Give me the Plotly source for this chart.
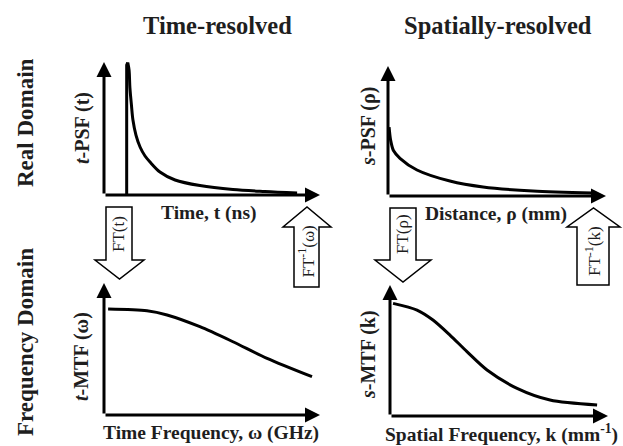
import plotly.graph_objects as go

W, H = 623, 446

# ---- data (normalized units within each panel) ----
# t-PSF: instantaneous rise, then decay
trise_x = [0.105, 0.105, 0.110]
trise_y = [0.0, 0.977, 0.996]
tpsf_x = [0.110, 0.116, 0.120, 0.127, 0.134, 0.148, 0.167, 0.190, 0.213, 0.259, 0.329, 0.444, 0.597, 0.745, 0.894]
tpsf_y = [0.996, 0.940, 0.805, 0.677, 0.564, 0.451, 0.361, 0.293, 0.248, 0.173, 0.113, 0.071, 0.041, 0.026, 0.015]

spsf_x = [0.005, 0.012, 0.025, 0.055, 0.133, 0.284, 0.436, 0.665, 0.94]
spsf_y = [0.53, 0.43, 0.35, 0.29, 0.20, 0.115, 0.069, 0.038, 0.023]

tmtf_x = [0.019, 0.199, 0.292, 0.444, 0.597, 0.755, 0.963]
tmtf_y = [0.803, 0.79, 0.758, 0.669, 0.555, 0.429, 0.29]

smtf_x = [0.014, 0.124, 0.197, 0.275, 0.353, 0.445, 0.583, 0.734, 0.95]
smtf_y = [0.86, 0.809, 0.733, 0.618, 0.491, 0.351, 0.211, 0.122, 0.084]

col_titles = ["Time-resolved", "Spatially-resolved"]
row_titles = ["Real Domain", "Frequency Domain"]
x_labels = ["Time, t (ns)", "Distance, ρ (mm)",
            "Time Frequency, ω (GHz)", "Spatial Frequency, k (mm<sup>-1</sup>)"]
y_labels = ["<i>t</i>-PSF (t)", "<i>s</i>-PSF (ρ)", "<i>t</i>-MTF (ω)", "<i>s</i>-MTF (k)"]
ft_labels = ["FT(t)", "FT<sup>-1</sup>(ω)", "FT(ρ)", "FT<sup>-1</sup>(k)"]


def px(x):
    return x / W


def py(y):
    return 1 - y / H


# panel boxes in pixels: (x_left, x_right, y_top, y_bottom)
panels = [(104, 320, 62, 195), (388, 606, 66, 196), (104, 320, 283, 415), (390, 608, 285, 416)]
curves = [
    [(trise_x, trise_y, 0.0), (tpsf_x, tpsf_y, 0.9)],
    [(spsf_x, spsf_y, 0.8)],
    [(tmtf_x, tmtf_y, 0.8)],
    [(smtf_x, smtf_y, 0.8)],
]

fig = go.Figure()
layout = dict(width=W, height=H, margin=dict(l=0, r=0, t=0, b=0),
              paper_bgcolor="white", plot_bgcolor="white", showlegend=False)
annotations = []
shapes = []
FONT = "Liberation Serif"
TXT = "#1e1e1e"

for i, ((xl, xr, yt, yb), segs) in enumerate(zip(panels, curves)):
    n = "" if i == 0 else str(i + 1)
    layout["xaxis" + n] = dict(domain=[px(xl), px(xr)], range=[0, 1], visible=False, fixedrange=True)
    layout["yaxis" + n] = dict(domain=[py(yb), py(yt)], range=[0, 1], visible=False, fixedrange=True)
    for cx, cy, sm in segs:
        line = dict(color="black", width=3)
        if sm > 0:
            line.update(shape="spline", smoothing=sm)
        fig.add_trace(go.Scatter(x=cx, y=cy, mode="lines", line=line,
                                 xaxis="x" + n, yaxis="y" + n, hoverinfo="skip"))
    for (hx, hy) in [(0, 1), (1, 0)]:
        annotations.append(dict(x=hx, y=hy, ax=0, ay=0, xref="x" + n, yref="y" + n,
                                axref="x" + n, ayref="y" + n, text="", showarrow=True,
                                arrowhead=2, arrowsize=1, arrowwidth=3, arrowcolor="black", standoff=0))


def label(text, x, y, size, angle=0):
    annotations.append(dict(x=px(x), y=py(y), xref="paper", yref="paper", text=text,
                            xanchor="center", yanchor="middle", showarrow=False, textangle=angle,
                            font=dict(family=FONT, size=size, color=TXT)))


for t, x in zip(col_titles, [217, 498]):
    label("<b>%s</b>" % t, x, 26, 24.5)
for t, y in zip(row_titles, [123, 342]):
    label("<b>%s</b>" % t, 25, y, 23, -90)
for t, (x, y) in zip(x_labels, [(209, 213), (496, 214), (211, 433), (501, 433)]):
    label("<b>%s</b>" % t, x, y, 19.5)
for t, (x, y) in zip(y_labels, [(83, 128), (368, 127), (81, 357), (368, 355)]):
    label("<b>%s</b>" % t, x, y, 20, -90)


def path(pts):
    return "M " + " L ".join("%.5f,%.5f" % (px(x), py(y)) for x, y in pts) + " Z"


def block_arrow(sx0, sx1, base, hx0, hx1, hy, tip):
    cx = (hx0 + hx1) / 2
    return [(sx0, base), (sx1, base), (sx1, hy), (hx1, hy), (cx, tip), (hx0, hy), (sx0, hy)]


arrows = [
    (block_arrow(106, 132, 207, 95, 144, 260, 279), (119, 234)),
    (block_arrow(294, 319, 287, 283, 331, 227, 207), (306.5, 252)),
    (block_arrow(390, 416, 208, 375, 431, 260, 282), (403, 234)),
    (block_arrow(577, 609, 285, 567, 620, 227, 208), (593, 251)),
]
for (pts, (tx, ty)), lab in zip(arrows, ft_labels):
    shapes.append(dict(type="path", path=path(pts), xref="paper", yref="paper",
                       line=dict(color="black", width=1.5), fillcolor="white", layer="above"))
    label(lab, tx, ty, 17, -90)

layout["annotations"] = annotations
layout["shapes"] = shapes
fig.update_layout(**layout)
fig.write_html("out.html", config={"displayModeBar": False},
               post_script="document.body.style.margin='0';")
